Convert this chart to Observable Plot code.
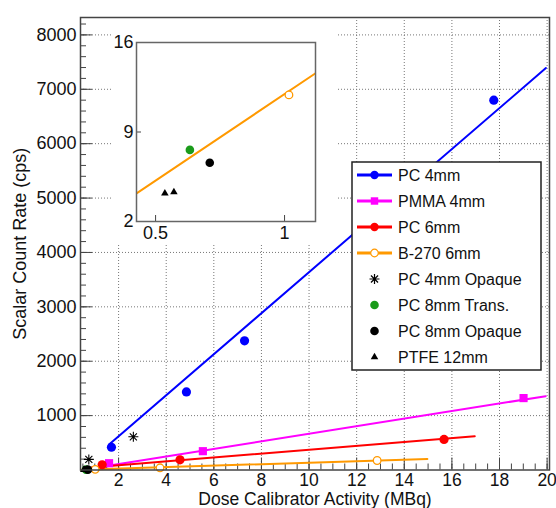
<!DOCTYPE html>
<html><head><meta charset="utf-8">
<script src="https://cdn.jsdelivr.net/npm/d3@7"></script>
<script src="https://cdn.jsdelivr.net/npm/@observablehq/plot@0.6"></script>
<style>
body{margin:0;background:#fff;}
#chart{position:relative;width:556px;height:508px;font-family:"Liberation Sans",Arial,sans-serif;}
#chart > svg{position:absolute;}
</style></head><body><div id="chart"></div>
<script>
// ---- data ----
const seriesNames = ["PC 4mm","PMMA 4mm","PC 6mm","B-270 6mm","PC 4mm Opaque","PC 8mm Trans.","PC 8mm Opaque","PTFE 12mm"];
const seriesColors = ["#0000ff","#ff00ff","#ff0000","#ff9900","#000000","#1a9b1a","#000000","#000000"];

const pc4X = [1.70, 4.85, 7.29, 17.76];
const pc4Y = [418, 1435, 2376, 6800];
const pmmaX = [1.60, 5.54, 19.01];
const pmmaY = [125, 346, 1322];
const pc6X = [1.31, 4.58, 15.67];
const pc6Y = [95, 188, 562];
const b270X = [1.017, 3.74, 12.86];
const b270Y = [11.9, 40, 175];
const opq4X = [0.75, 2.62];
const opq4Y = [195, 610];
const trans8X = [0.633];
const trans8Y = [7.6];
const opq8X = [0.71];
const opq8Y = [6.6];
const ptfeX = [0.536, 0.571];
const ptfeY = [4.2, 4.3];

// fit lines (endpoints)
const fitPc4X = [1.60, 19.95];
const fitPc4Y = [470, 7390];
const fitPmmaX = [0.82, 19.94];
const fitPmmaY = [28, 1358];
const fitPc6X = [0.85, 16.96];
const fitPc6Y = [45, 622];
const fitB270X = [0.42, 14.97];
const fitB270Y = [4.12, 201];

// ticks
const xTicks = [2,4,6,8,10,12,14,16,18,20];
const yTicks = [1000,2000,3000,4000,5000,6000,7000,8000];
const insetXTicks = [0.5, 1];
const insetYTicks = [2, 9, 16];

const xLabel = "Dose Calibrator Activity (MBq)";
const yLabel = "Scalar Count Rate (cps)";

// ---- helpers ----
const rows = (xs, ys) => xs.map((x, i) => ({x, y: ys[i]}));
const asterisk = {draw(ctx, size){
  const r = Math.sqrt(size / Math.PI), d = r * Math.SQRT1_2;
  ctx.moveTo(-r,0); ctx.lineTo(r,0); ctx.moveTo(0,-r); ctx.lineTo(0,r);
  ctx.moveTo(-d,-d); ctx.lineTo(d,d); ctx.moveTo(-d,d); ctx.lineTo(d,-d);
}};
const FONT = '"Liberation Sans", Arial, sans-serif';
const fmt = d => `${d}`;

function dataMarks(clip){
  return [
    Plot.line(rows(fitPc4X, fitPc4Y), {x:"x", y:"y", stroke:seriesColors[0], strokeWidth:2, clip}),
    Plot.line(rows(fitPmmaX, fitPmmaY), {x:"x", y:"y", stroke:seriesColors[1], strokeWidth:2, clip}),
    Plot.line(rows(fitPc6X, fitPc6Y), {x:"x", y:"y", stroke:seriesColors[2], strokeWidth:2, clip}),
    Plot.line(rows(fitB270X, fitB270Y), {x:"x", y:"y", stroke:seriesColors[3], strokeWidth:2, clip}),
    Plot.dot(rows(pc4X, pc4Y), {x:"x", y:"y", r:4.6, fill:seriesColors[0], clip}),
    Plot.dot(rows(pmmaX, pmmaY), {x:"x", y:"y", r:4.6, symbol:"square", fill:seriesColors[1], clip}),
    Plot.dot(rows(pc6X, pc6Y), {x:"x", y:"y", r:4.6, fill:seriesColors[2], clip}),
    Plot.dot(rows(b270X, b270Y), {x:"x", y:"y", r:3.8, fill:"white", stroke:seriesColors[3], strokeWidth:1.3, clip}),
    Plot.dot(rows(opq4X, opq4Y), {x:"x", y:"y", r:5, symbol:asterisk, fill:"none", stroke:seriesColors[4], strokeWidth:1.1, clip}),
    Plot.dot(rows(trans8X, trans8Y), {x:"x", y:"y", r:4.3, fill:seriesColors[5], clip}),
    Plot.dot(rows(opq8X, opq8Y), {x:"x", y:"y", r:4.3, fill:seriesColors[6], clip}),
    Plot.dot(rows(ptfeX, ptfeY), {x:"x", y:"y", r:2.8, symbol:"triangle", fill:seriesColors[7], clip})
  ];
}

// ---- main plot ----
const W = 556, H = 508, mL = 80, mR = 7, mT = 17, mB = 38.5;
const innerW = W - mL - mR, innerH = H - mT - mB;
const xMinor = d3.range(0.5, 20.01, 0.5);
const yMinor = d3.range(0, 8301, 200);
const tickColor = "#444";
const gridStyle = {stroke:"#777", strokeOpacity:1, strokeWidth:1, strokeDasharray:"1,2"};

const main = Plot.plot({
  width: W, height: H,
  marginLeft: mL, marginRight: mR, marginTop: mT, marginBottom: mB,
  style: {fontFamily: FONT, fontSize: "18px", background: "white", color: "#111"},
  x: {domain: [0.4, 20.1], label: null},
  y: {domain: [0, 8320], label: null},
  marks: [
    Plot.gridX(xTicks, gridStyle),
    Plot.gridY(yTicks, gridStyle),
    Plot.tickX(xMinor, {x: d => d, stroke: tickColor, insetTop: innerH - 6}),
    Plot.tickX(xTicks, {x: d => d, stroke: tickColor, insetTop: innerH - 12}),
    Plot.tickY(yMinor, {y: d => d, stroke: tickColor, insetRight: innerW - 6}),
    Plot.tickY(yTicks, {y: d => d, stroke: tickColor, insetRight: innerW - 12}),
    Plot.axisX(xTicks, {tickSize: 0, tickPadding: 3.5, label: null, tickFormat: fmt, fontSize: 17.5}),
    Plot.axisY(yTicks, {tickSize: 0, tickPadding: 4, label: null, tickFormat: fmt}),
    ...dataMarks(false),
    Plot.frame({stroke: tickColor, strokeWidth: 1.5}),
    Plot.text([xLabel], {frameAnchor: "bottom", textAnchor: "middle", lineAnchor: "middle", dy: 29, fontSize: 17.5, fill: "#111"}),
    Plot.text([yLabel], {frameAnchor: "left", textAnchor: "middle", lineAnchor: "middle", rotate: -90, dx: -60, fontSize: 18, fill: "#111"})
  ]
});
main.style.left = "0px"; main.style.top = "0px";
document.getElementById("chart").appendChild(main);

// ---- inset ----
const iW = 224, iH = 224, imL = 24, imR = 21, imT = 23, imB = 22;
const iInnerW = iW - imL - imR, iInnerH = iH - imT - imB;
const inset = Plot.plot({
  width: iW, height: iH,
  marginLeft: imL, marginRight: imR, marginTop: imT, marginBottom: imB,
  style: {fontFamily: FONT, fontSize: "18px", background: "white", color: "#111", overflow: "visible"},
  x: {domain: [0.426, 1.12], label: null},
  y: {domain: [2, 16], label: null},
  marks: [
    ...dataMarks(true),
    Plot.tickX(insetXTicks, {x: d => d, stroke: tickColor, insetTop: iInnerH - 6}),
    Plot.tickY(insetYTicks, {y: d => d, stroke: tickColor, insetRight: iInnerW - 5}),
    Plot.axisX(insetXTicks, {tickSize: 0, tickPadding: 5, label: null, tickFormat: fmt}),
    Plot.axisY(insetYTicks, {tickSize: 0, tickPadding: 3, label: null, tickFormat: fmt}),
    Plot.frame({stroke: "#666", strokeWidth: 1.5})
  ]
});
inset.style.left = "112px"; inset.style.top = "19px";
document.getElementById("chart").appendChild(inset);

// ---- legend ----
const hasLine = [true, true, true, true, false, false, false, false];
const legSymbols = [d3.symbolCircle, d3.symbolSquare, d3.symbolCircle, d3.symbolCircle, asterisk, d3.symbolCircle, d3.symbolCircle, d3.symbolTriangle];
const legR = [4.2, 4.2, 4.2, 3.8, 5, 4.3, 4.3, 2.8];
const legFill = ["#0000ff","#ff00ff","#ff0000","white","none","#1a9b1a","#000","#000"];
const legStroke = ["none","none","none","#ff9900","#000","none","none","none"];
const legend = d3.create("svg").attr("width", 192).attr("height", 211)
  .style("left", "351px").style("top", "161px");
legend.append("rect").attr("x", 1).attr("y", 1).attr("width", 189).attr("height", 208)
  .attr("fill", "white").attr("stroke", "#222").attr("stroke-width", 1.5);
seriesNames.forEach((name, i) => {
  const cy = 14 + 26 * i;
  const g = legend.append("g");
  if (hasLine[i]) g.append("line").attr("x1", 6).attr("x2", 41).attr("y1", cy).attr("y2", cy)
    .attr("stroke", seriesColors[i]).attr("stroke-width", 3);
  g.append("path").attr("transform", `translate(23.5,${cy})`)
    .attr("d", d3.symbol(legSymbols[i], legR[i] * legR[i] * Math.PI)())
    .attr("fill", legFill[i]).attr("stroke", legStroke[i]).attr("stroke-width", legStroke[i] === "none" ? 0 : 1.2);
  g.append("text").attr("x", 47).attr("y", cy).attr("dy", "0.35em")
    .attr("font-family", FONT).attr("font-size", 16).attr("fill", "#111").text(name);
});
document.getElementById("chart").appendChild(legend.node());
</script>
</body></html>
